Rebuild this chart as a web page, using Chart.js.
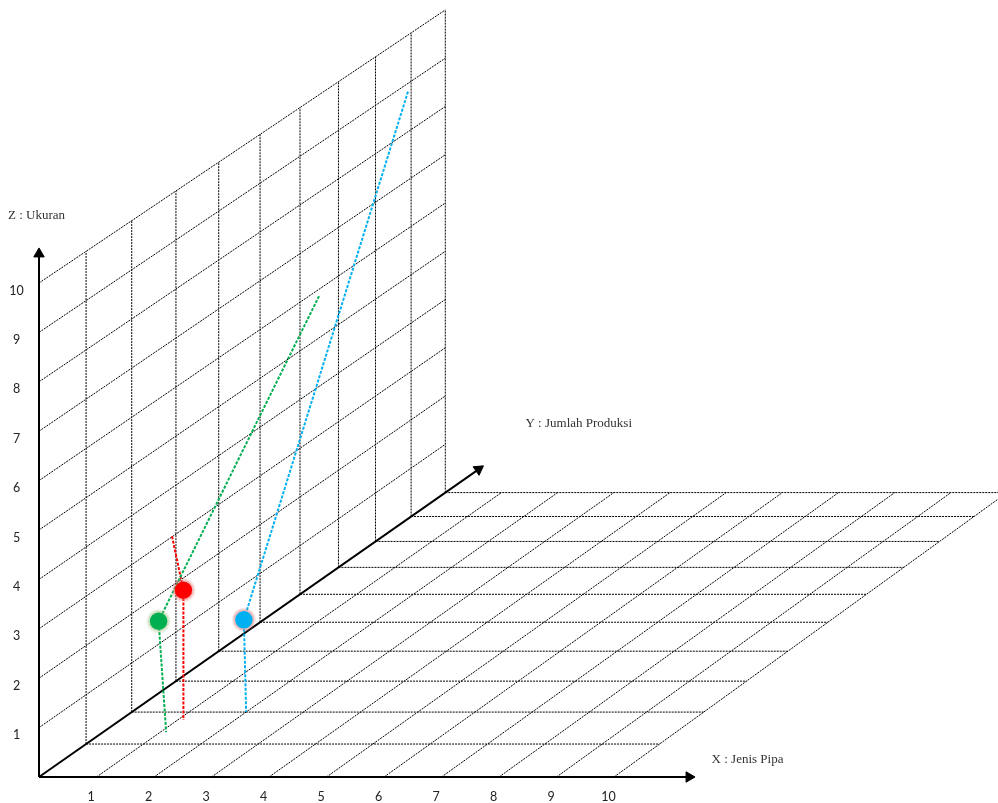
<!DOCTYPE html>
<html lang="id">
<head>
<meta charset="utf-8">
<title>Grafik Ukuran, Jumlah Produksi dan Jenis Pipa</title>
<script src="https://cdn.jsdelivr.net/npm/chart.js@4.4.1/dist/chart.umd.min.js"></script>
<style>
  html, body { margin: 0; padding: 0; background: #fff; }
  #wrap { position: relative; width: 998px; height: 803px; }
</style>
</head>
<body>
<div id="wrap"><canvas id="chart"></canvas></div>
<script>
// grid steps on each axis
const xTicks = [1, 2, 3, 4, 5, 6, 7, 8, 9, 10];
const yTicks = [1, 2, 3, 4, 5, 6, 7, 8, 9, 10];
const zTicks = [1, 2, 3, 4, 5, 6, 7, 8, 9, 10];
const xTickLabels = ['1', '2', '3', '4', '5', '6', '7', '8', '9', '10'];
const zTickLabels = ['1', '2', '3', '4', '5', '6', '7', '8', '9', '10'];
const axisTitles = ['X : Jenis Pipa', 'Y : Jumlah Produksi', 'Z : Ukuran'];

// the three plotted points (green, red, blue)
const pointX = [1, 1.1, 2];
const pointY = [1.33, 1.75, 1.95];
const pointZ = [2.28, 2.64, 1.91];
// where each dotted drop line lands on the floor (Z = 0)
const footX = [1.1, 1.1, 2];
const footY = [1.37, 1.75, 2];
// where each slanted guide line ends on the back wall (X = 0)
const wallY = [6.49, 2.91, 8.91];
const wallZ = [5.86, 3.01, 8.83];

const GRID_MAX = 10;
const AXIS_END = { x: 11.41, y: 11.17, z: 10.71 };

// oblique view with a little foreshortening along Y
const UNIT = { x: 57.5, z: 49.4, yx: 47.8, yz: 33.46 };
const DEPTH_X = UNIT.yx / UNIT.x;
const DEPTH_Z = UNIT.yz / UNIT.z;
const depth = (Y) => Y - 0.015 * Y * Y;
const proj = (X, Y, Z) => {
  const d = depth(Y);
  const s = 1 - 0.0027 * d;
  return { x: X * s + DEPTH_X * d, y: Z * s + DEPTH_Z * d };
};

const SERIES_COLORS = ['#00B050', '#FF0000', '#00B0F0'];
const HALO_COLORS = ['rgba(150,190,120,0.35)', 'rgba(225,110,110,0.35)', 'rgba(215,120,120,0.4)'];

const datasets = [];
const gridStyle = { showLine: true, borderColor: '#000', borderWidth: 1, borderDash: [2, 1],
  pointRadius: 0, order: 10 };
const seg = (a, b, style) => datasets.push({ data: [a, b], ...style });

// back wall
zTicks.forEach((z) => seg(proj(0, 0, z), proj(0, GRID_MAX, z), gridStyle));
yTicks.forEach((y) => seg(proj(0, y, 0), proj(0, y, GRID_MAX), gridStyle));
// floor
yTicks.forEach((y) => seg(proj(0, y, 0), proj(GRID_MAX, y, 0), gridStyle));
xTicks.forEach((x) => seg(proj(x, 0, 0), proj(x, GRID_MAX, 0), gridStyle));

// axes with arrow heads
const ARROW_R = 6;
const axisStyle = { showLine: true, borderColor: '#000', borderWidth: 2, pointRadius: 0, order: 5 };
const yAngle = Math.atan2(UNIT.yz, UNIT.yx) * 180 / Math.PI;
const stepBack = (p, deg) => ({
  x: p.x - ARROW_R * Math.cos(deg * Math.PI / 180) / UNIT.x,
  y: p.y - ARROW_R * Math.sin(deg * Math.PI / 180) / UNIT.z,
});
const arrows = [
  { tip: stepBack(proj(AXIS_END.x, 0, 0), 0), rot: 90 },
  { tip: stepBack(proj(0, AXIS_END.y, 0), yAngle), rot: 90 - yAngle },
  { tip: stepBack(proj(0, 0, AXIS_END.z), 90), rot: 0 },
];
arrows.forEach((a) => seg(proj(0, 0, 0), a.tip, axisStyle));
datasets.push({
  data: arrows.map((a) => a.tip), pointStyle: 'triangle', pointRadius: ARROW_R,
  pointRotation: arrows.map((a) => a.rot), pointBackgroundColor: '#000', pointBorderColor: '#000',
  pointBorderWidth: 1, showLine: false, order: 4,
});

// guide lines for each point: wall -> point -> floor
pointX.forEach((_, i) => {
  datasets.push({
    data: [proj(0, wallY[i], wallZ[i]), proj(pointX[i], pointY[i], pointZ[i]), proj(footX[i], footY[i], 0)],
    showLine: true, borderColor: SERIES_COLORS[i], borderWidth: 2, borderDash: [3, 1.5],
    pointRadius: 0, order: 3,
  });
});

const points = pointX.map((x, i) => proj(x, pointY[i], pointZ[i]));
datasets.push({ data: points, pointRadius: 12, pointBackgroundColor: HALO_COLORS.map((c) => c.replace(/[\d.]+\)$/, '0.18)')),
  pointBorderWidth: 0, showLine: false, order: 2 });
datasets.push({ data: points, pointRadius: 10.5, pointBackgroundColor: HALO_COLORS,
  pointBorderWidth: 0, showLine: false, order: 2 });
datasets.push({ data: points, pointRadius: 8.7, pointBackgroundColor: SERIES_COLORS,
  pointBorderWidth: 0, showLine: false, order: 1 });

const axisText = {
  id: 'axisText',
  afterDatasetsDraw(chart) {
    const { ctx, scales: { x, y } } = chart;
    const px = (p) => [x.getPixelForValue(p.x), y.getPixelForValue(p.y)];
    ctx.save();
    ctx.fillStyle = '#222';
    ctx.textAlign = 'center';
    ctx.textBaseline = 'middle';
    ctx.font = '12.5px Lato, "Open Sans", sans-serif';
    xTicks.forEach((v, i) => {
      const [a, b] = px(proj(v, 0, 0));
      ctx.fillText(xTickLabels[i], a - 5.5, b + 20);
    });
    zTicks.forEach((v, i) => {
      const [a, b] = px(proj(0, 0, v));
      ctx.fillText(zTickLabels[i], a - 22.5, b + 7.5);
    });
    ctx.fillStyle = '#333';
    ctx.textAlign = 'left';
    ctx.font = '13px "Liberation Serif", "Times New Roman", serif';
    const titleAt = [
      [proj(AXIS_END.x, 0, 0), 16.5, -17],
      [proj(0, AXIS_END.y, 0), 42, -42],
      [proj(0, 0, AXIS_END.z), -31, -32],
    ];
    titleAt.forEach(([p, dx, dy], i) => {
      const [a, b] = px(p);
      ctx.fillText(axisTitles[i], a + dx, b + dy);
    });
    ctx.restore();
  },
};

new Chart(document.getElementById('chart'), {
  type: 'scatter',
  data: { datasets },
  options: {
    responsive: true,
    maintainAspectRatio: false,
    animation: false,
    layout: { padding: 0, autoPadding: false },
    plugins: { legend: { display: false }, tooltip: { enabled: false } },
    elements: { line: { tension: 0 } },
    scales: {
      x: { type: 'linear', display: false, min: -39 / UNIT.x, max: 959 / UNIT.x },
      y: { type: 'linear', display: false, min: -26 / UNIT.z, max: 777 / UNIT.z },
    },
  },
  plugins: [axisText],
});
</script>
</body>
</html>
